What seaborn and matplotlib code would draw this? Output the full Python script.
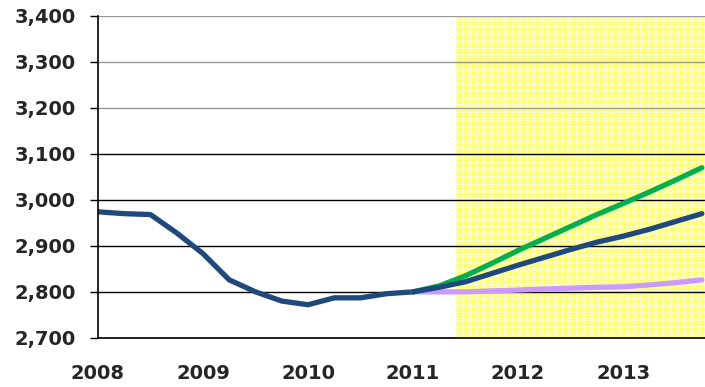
import matplotlib
matplotlib.use("Agg")
import matplotlib.pyplot as plt
import seaborn as sns
import pandas as pd

# quarterly history 2008Q1 - 2011Q1
hist_x = [2008.0, 2008.25, 2008.5, 2008.75, 2009.0, 2009.25, 2009.5, 2009.75,
          2010.0, 2010.25, 2010.5, 2010.75, 2011.0]
hist_y = [2974, 2970, 2968, 2928, 2883, 2826, 2800, 2780, 2772, 2787, 2787, 2796, 2800]

# projections 2011Q1 - 2013Q4
proj_x = [2011.0, 2011.25, 2011.5, 2011.75, 2012.0, 2012.25, 2012.5, 2012.75,
          2013.0, 2013.25, 2013.5, 2013.75]
high_y = [2800, 2813, 2835, 2862, 2890, 2916, 2942, 2968, 2992, 3017, 3043, 3070]
base_y = [2800, 2810, 2822, 2840, 2858, 2875, 2892, 2908, 2921, 2936, 2953, 2970]
low_y = [2800, 2800, 2800, 2802, 2804, 2806, 2808, 2810, 2811, 2815, 2820, 2826]

yticks = [2700, 2800, 2900, 3000, 3100, 3200, 3300, 3400]
xticks = [2008, 2009, 2010, 2011, 2012, 2013]
shade_start = 2011.41

df = pd.concat([
    pd.DataFrame({"year": hist_x, "value": hist_y, "series": "hist"}),
    pd.DataFrame({"year": proj_x, "value": low_y, "series": "low"}),
    pd.DataFrame({"year": proj_x, "value": high_y, "series": "high"}),
    pd.DataFrame({"year": proj_x, "value": base_y, "series": "base"}),
])
palette = {"hist": "#1F497D", "base": "#1F497D", "high": "#00B050", "low": "#CC99FF"}

sns.set_style("white")
plt.rcParams["font.family"] = ["DejaVu Sans"]
plt.rcParams["hatch.linewidth"] = 0.35

fig = plt.figure(figsize=(7.05, 3.87), dpi=100)
ax = fig.add_axes([0.139, 0.127, 0.861, 0.832])

# shaded forecast period
ax.axvspan(shade_start, 2014, facecolor="#FFFF6A", edgecolor="white",
           hatch="++++++", linewidth=0, zorder=0)

for yv in yticks:
    col = "#999999" if yv >= 3200 else "black"
    ax.axhline(yv, color=col, lw=1.0, zorder=1)

sns.lineplot(data=df, x="year", y="value", hue="series", palette=palette,
             hue_order=["hist", "low", "high", "base"], lw=3.8, ax=ax,
             legend=False, zorder=3)

ax.set_xlim(2008, 2013.78)
ax.set_ylim(2700, 3400)
ax.set_yticks(yticks)
ax.set_yticklabels([f"{v:,}" for v in yticks], fontsize=14, fontweight="bold")
ax.set_xticks(xticks)
ax.set_xticklabels([str(v) for v in xticks], fontsize=14, fontweight="bold")
ax.tick_params(axis="y", length=5.8, width=1, color="black", pad=10, direction="out", left=True)
ax.tick_params(axis="x", length=0, pad=19)
ax.set_xlabel("")
ax.set_ylabel("")

for s in ["top", "right"]:
    ax.spines[s].set_visible(False)
for s in ["left", "bottom"]:
    ax.spines[s].set_color("black")
    ax.spines[s].set_linewidth(1.2)
ax.spines["left"].set_zorder(4)

plt.savefig("out.png", dpi=100)
